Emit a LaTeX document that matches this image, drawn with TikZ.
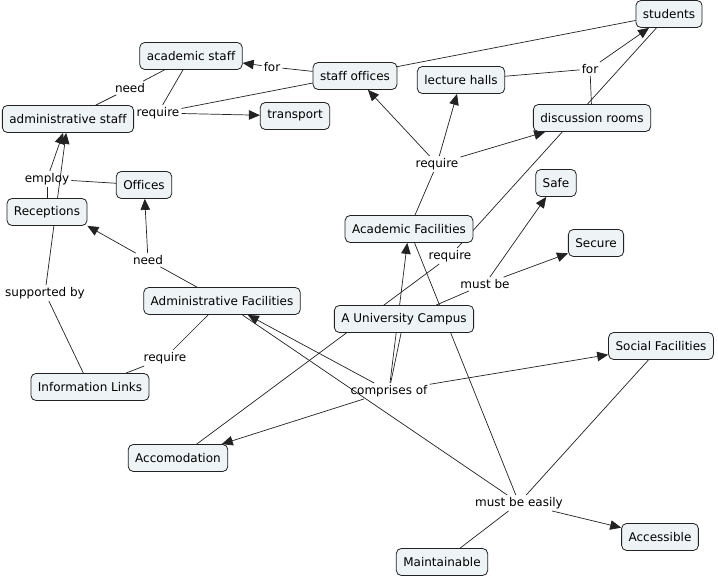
\documentclass[tikz,border=0pt]{standalone}
\usepackage{fontspec}
\setmainfont{DejaVu Sans}[Ligatures=NoCommon]
\usetikzlibrary{arrows.meta,backgrounds}
\definecolor{cfill}{HTML}{EEF3F6}
\definecolor{cline}{HTML}{222222}
\tikzset{
  concept/.style={draw=cline, line width=0.8pt, fill=cfill, rounded corners=5pt,
    inner xsep=7pt, inner ysep=0pt, minimum height=27pt, font=\fontsize{12}{14}\selectfont},
  linkph/.style={inner sep=2pt, font=\fontsize{12}{14}\selectfont},
  conn/.style={draw=cline, line width=0.7pt},
  arr/.style={conn, -{Triangle[length=11pt,width=9.5pt]}}
}
\begin{document}
\begin{tikzpicture}[x=1pt,y=-1pt]
\useasboundingbox (0,0) rectangle (718,577);
% concepts
\node[concept] (stu) at (669,14) {students};
\node[concept] (acs) at (191,56) {academic staff};
\node[concept] (sto) at (355,76) {staff offices};
\node[concept] (lec) at (461,80) {lecture halls};
\node[concept] (ads) at (68,119) {administrative staff};
\node[concept] (tra) at (295,116) {transport};
\node[concept] (dis) at (592,118) {discussion rooms};
\node[concept] (off) at (144,185) {Offices};
\node[concept] (rec) at (47,212) {Receptions};
\node[concept] (saf) at (556,183) {Safe};
\node[concept] (acf) at (409,229) {Academic Facilities};
\node[concept] (sec) at (596,243) {Secure};
\node[concept] (adf) at (222,301) {Administrative Facilities};
\node[concept] (uni) at (404,319) {A University Campus};
\node[concept] (soc) at (661,346) {Social Facilities};
\node[concept] (inf) at (90,387) {Information Links};
\node[concept] (acc) at (178,458) {Accomodation};
\node[concept] (aces) at (660,537) {Accessible};
\node[concept] (mai) at (442,562) {Maintainable};
% linking phrases
\node[linkph] (forA) at (272,67) {for};
\node[linkph] (needA) at (130,88) {need};
\node[linkph] (reqA) at (158,113) {require};
\node[linkph] (employ) at (47,179) {employ};
\node[linkph] (forB) at (590,69) {for};
\node[linkph] (reqB) at (437,164) {require};
\node[linkph] (needB) at (148,260) {need};
\node[linkph] (sup) at (45,293) {supported by};
\node[linkph] (reqC) at (165,358) {require};
\node[linkph] (reqD) at (450,256) {require};
\node[linkph] (must) at (485,284) {must be};
\node[linkph] (comp) at (389,391) {comprises of};
\node[linkph] (easy) at (519,503) {must be easily};
% connectors
\begin{pgfonlayer}{background}
\fill[white] (0,0) rectangle (718,577);
\draw[conn] (sto) -- (forA);
\draw[arr] (forA) -- (acs);
\draw[conn] (ads) -- (needA);
\draw[conn] (needA) -- (acs);
\draw[conn] (acs) -- (reqA);
\draw[arr] (reqA) -- (tra);
\draw[conn] (reqA) -- (stu);
\draw[conn] (rec) -- (employ);
\draw[conn] (off) -- (employ);
\draw[arr] (employ) -- (ads);
\draw[conn] (inf) -- (sup);
\draw[arr] (sup) -- (ads);
\draw[conn] (adf) -- (needB);
\draw[arr] (needB) -- (rec.south east);
\draw[arr] (needB) -- (off);
\draw[conn] (adf) -- (reqC);
\draw[conn] (reqC) -- (inf);
\draw[conn] (acf) -- (reqB);
\draw[arr] (reqB) -- (sto);
\draw[arr] (reqB) -- (lec);
\draw[arr] (reqB) -- (dis);
\draw[conn] (lec) -- (forB);
\draw[conn] (dis) -- (forB);
\draw[arr] (forB) -- (stu);
\draw[conn] (acc) -- (reqD);
\draw[conn] (reqD) -- (stu);
\draw[conn] (uni) -- (must);
\draw[arr] (must) -- (saf);
\draw[arr] (must) -- (sec);
\draw[conn] (uni) -- (comp);
\draw[arr] (comp) -- (acf);
\draw[arr] (comp) -- (soc);
\draw[arr] (comp) -- (acc);
\draw[arr] (comp) -- (adf);
\draw[conn] (adf) -- (easy);
\draw[conn] (acf) -- (easy);
\draw[conn] (soc) -- (easy);
\draw[arr] (easy) -- (aces);
\draw[conn] (easy) -- (mai);
\end{pgfonlayer}
\end{tikzpicture}
\end{document}
